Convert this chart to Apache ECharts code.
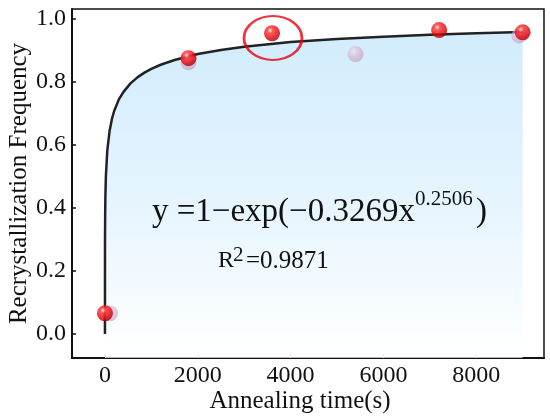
<!DOCTYPE html>
<html>
<head>
<meta charset="utf-8">
<script src="https://cdn.jsdelivr.net/npm/echarts@6/dist/echarts.min.js"></script>
<style>
  html, body { margin: 0; padding: 0; background: #fff; }
  #main { width: 550px; height: 419px; }
</style>
</head>
<body>
<div id="main"></div>
<script>
// measured points (red spheres)
var measX = [0, 1800, 3600, 7200, 9000];
var measY = [0.066, 0.876, 0.955, 0.965, 0.958];
// faded duplicate spheres
var ghostX = [110, 1800, 5400, 8930];
var ghostY = [0.066, 0.863, 0.889, 0.948];
// fitted curve
var fitX = [0, 1, 2, 5, 10, 20, 50, 100, 150, 200, 300, 400, 550, 700, 850, 1000, 1200, 1500, 2000, 2500, 3000, 4000, 5000, 6000, 7000, 8000, 9000];
var fitY = [0, 0.279, 0.322, 0.387, 0.441, 0.500, 0.582, 0.645, 0.683, 0.709, 0.745, 0.769, 0.796, 0.815, 0.830, 0.842, 0.855, 0.870, 0.889, 0.902, 0.912, 0.927, 0.937, 0.944, 0.950, 0.955, 0.959];
// highlighted point (ellipse)
var markX = [3620];
var markY = [0.94];
// tick labels
var xTicks = [0, 2000, 4000, 6000, 8000];
var yTicks = [0, 0.2, 0.4, 0.6, 0.8, 1.0];

var serif = 'Liberation Serif';

function pairs(xs, ys) {
    var out = [];
    for (var i = 0; i < xs.length; i++) out.push([xs[i], ys[i]]);
    return out;
}

var tickRich = {t: {fontFamily: serif, fontSize: 24, color: '#111'}};

var redBall = {
    type: 'radial', x: 0.38, y: 0.32, r: 0.68,
    colorStops: [
        {offset: 0, color: '#ffe6e6'},
        {offset: 0.25, color: '#ff3030'},
        {offset: 0.75, color: '#e00008'},
        {offset: 1, color: '#a80000'}
    ]
};
var ghostBall = {
    type: 'radial', x: 0.38, y: 0.32, r: 0.7,
    colorStops: [
        {offset: 0, color: 'rgba(245,225,240,0.75)'},
        {offset: 0.5, color: 'rgba(215,165,195,0.65)'},
        {offset: 1, color: 'rgba(185,135,170,0.65)'}
    ]
};

var myChart = echarts.init(document.getElementById('main'));
myChart.setOption({
    animation: false,
    textStyle: {fontFamily: serif},
    grid: {
        left: 72, right: 6, top: 9, bottom: 61,
        show: true, borderColor: '#111', borderWidth: 1.5,
        outerBoundsMode: 'none'
    },
    xAxis: {
        type: 'value', min: -710, max: 9460,
        name: 'Annealing time(s)', nameLocation: 'middle', nameGap: 31, nameMoveOverlap: false,
        nameTextStyle: {fontFamily: serif, fontSize: 25, color: '#111', padding: [0, 16, 0, 0]},
        axisLine: {onZero: false, lineStyle: {color: '#111', width: 2}},
        axisTick: {inside: true, length: 4, customValues: xTicks, lineStyle: {color: '#aaa'}},
        axisLabel: {customValues: xTicks, fontFamily: serif, fontSize: 24, color: '#111', margin: 6,
            rich: tickRich,
            formatter: function (v) { return '{t|' + v + '}'; }},
        splitLine: {show: false}
    },
    yAxis: {
        type: 'value', min: -0.076, max: 1.032,
        name: 'Recrystallization Frequency', nameLocation: 'middle', nameGap: 40, nameMoveOverlap: false,
        nameTextStyle: {fontFamily: serif, fontSize: 25, color: '#111'},
        axisLine: {onZero: false, lineStyle: {color: '#111', width: 2}},
        axisTick: {inside: true, length: 4, customValues: yTicks, lineStyle: {color: '#111', width: 1.5}},
        axisLabel: {customValues: yTicks, fontFamily: serif, fontSize: 24, color: '#111', margin: 6,
            rich: tickRich,
            formatter: function (v) { return '{t|' + v.toFixed(1) + '}'; }},
        splitLine: {show: false}
    },
    graphic: [
        {type: 'text', left: 152, top: 196, z: 10,
         style: {text: 'y =1\u2212exp(\u22120.3269x', font: '33px ' + serif, fill: '#111'}},
        {type: 'text', left: 415, top: 189, z: 10,
         style: {text: '0.2506', font: '21px ' + serif, fill: '#111'}},
        {type: 'text', left: 476, top: 196, z: 10,
         style: {text: ')', font: '33px ' + serif, fill: '#111'}},
        {type: 'text', left: 218, top: 249, z: 10,
         style: {text: 'R', font: '24px ' + serif, fill: '#111'}},
        {type: 'text', left: 233, top: 245, z: 10,
         style: {text: '2', font: '21px ' + serif, fill: '#111'}},
        {type: 'text', left: 246, top: 249, z: 10,
         style: {text: '=0.9871', font: '25px ' + serif, fill: '#111'}}
    ],
    series: [
        {
            name: 'fit', type: 'line', data: pairs(fitX, fitY),
            showSymbol: false, smooth: false, z: 2,
            lineStyle: {color: '#222', width: 2.5},
            areaStyle: {
                origin: 'start',
                color: {type: 'linear', x: 0, y: 0, x2: 0, y2: 1,
                    colorStops: [
                        {offset: 0, color: '#bde3fa'},
                        {offset: 0.55, color: '#dcf0fc'},
                        {offset: 1, color: '#ffffff'}
                    ]}
            }
        },
        {
            name: 'ghost', type: 'scatter', data: pairs(ghostX, ghostY),
            symbolSize: 16, z: 3, itemStyle: {color: ghostBall}
        },
        {
            name: 'measured', type: 'scatter', data: pairs(measX, measY),
            symbolSize: 16, z: 4, itemStyle: {color: redBall}
        },
        {
            name: 'mark', type: 'scatter', data: pairs(markX, markY),
            symbol: 'circle', symbolSize: [58, 44], z: 5,
            itemStyle: {color: 'rgba(0,0,0,0)', borderColor: '#e8000b', borderWidth: 2.5}
        }
    ]
});
</script>
</body>
</html>
